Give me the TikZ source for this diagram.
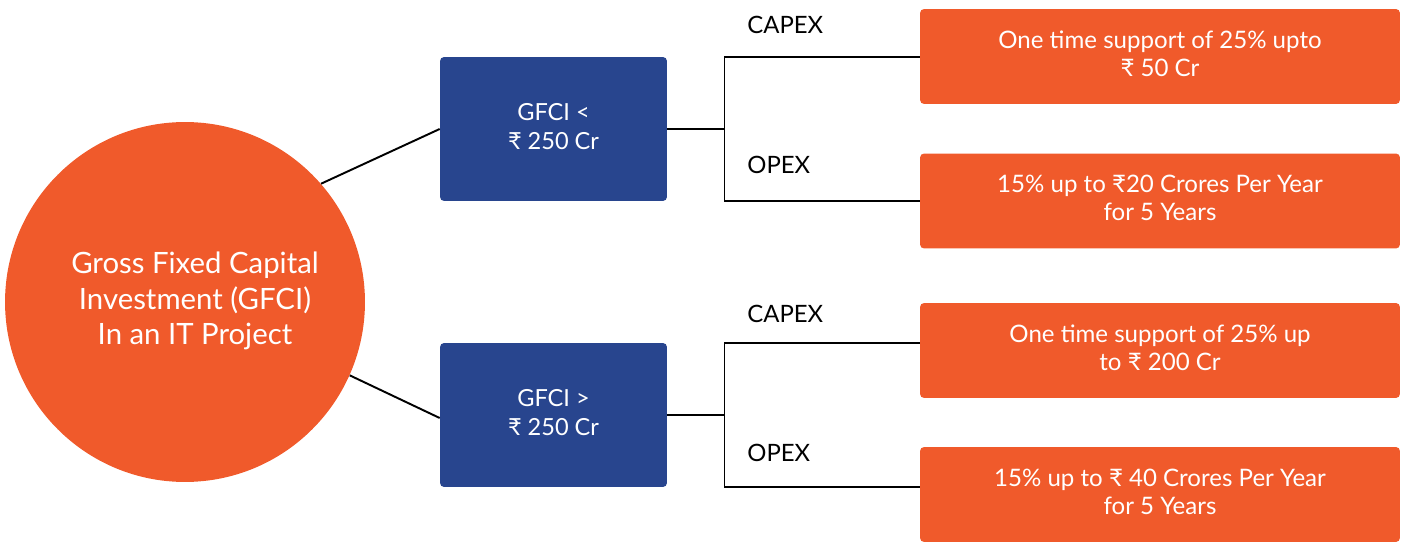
\documentclass[tikz,border=0pt]{standalone}
\usepackage{fontspec}
\setmainfont{Lato}
\usepackage{tikz}
\usetikzlibrary{positioning}
\definecolor{gfciorange}{HTML}{F05A2B}
\definecolor{gfciblue}{HTML}{28458E}

\tikzset{
  circ/.style={circle, fill=gfciorange, minimum size=7.2cm, inner sep=0pt, text=white,
    font=\fontsize{16.7}{20}\selectfont},
  gfcibox/.style={rectangle, rounded corners=2.3pt, fill=gfciblue, minimum width=4.54cm,
    minimum height=2.88cm, text depth=0.1cm, text=white, align=center,
    font=\fontsize{13.4}{16}\selectfont},
  benefit/.style={rectangle, rounded corners=2.3pt, fill=gfciorange, minimum width=9.6cm,
    minimum height=1.9cm, text depth=0.12cm, text=white, align=center,
    font=\fontsize{13.7}{16}\selectfont},
  lbl/.style={anchor=west, inner sep=0pt, font=\fontsize{13.6}{15}\selectfont},
  wire/.style={draw=black, line width=1.1pt}
}

\begin{document}
\begin{tikzpicture}[x=0.02cm, y=-0.02cm]
    \useasboundingbox (0,0) rectangle (1405,543);

    % main circle
    \node[circ] (gfci) at (185,302) {\hspace*{0.4cm}%
      \begin{tabular}{@{}c@{}}Gross Fixed Capital\\Investment (GFCI)\\In an IT Project\end{tabular}};

    % GFCI ranges
    \node[gfcibox] (lo) at (553.5,129) {GFCI <\\₹ 250 Cr};
    \node[gfcibox] (hi) at (553.5,415) {GFCI >\\₹ 250 Cr};

    % benefits
    \node[benefit] (capa) at (1160,56.5) {One time support of 25\% upto\\₹ 50 Cr};
    \node[benefit] (opa) at (1160,201) {15\% up to ₹20 Crores Per Year\\for 5 Years};
    \node[benefit] (capb) at (1160,350.5) {One time support of 25\% up\\to ₹ 200 Cr};
    \node[benefit] (opb) at (1160,494.5) {15\% up to ₹ 40 Crores Per Year\\for 5 Years};

    % labels
    \node[lbl] (capexa) at (747,24.5) {CAPEX};
    \node[lbl] (opexa) at (747,164.5) {OPEX};
    \node[lbl] (capexb) at (747,313.5) {CAPEX};
    \node[lbl] (opexb) at (747,453) {OPEX};

    % bracket corners
    \coordinate (ta) at (724.5,57);
    \coordinate (ba) at (724.5,201);
    \coordinate (tb) at (724.5,343);
    \coordinate (bb) at (724.5,487);

    % connectors
    \draw[wire] (gfci.41.8) -- (lo.west);
    \draw[wire] (gfci.-24.3) -- ([yshift=-0.06cm]hi.west);

    \draw[wire] (lo.east) -- (lo.east -| ta);
    \draw[wire] (ta -| capa.west) -- (ta) -- (ba) -- (ba -| opa.west);
    \draw[wire] (hi.east) -- (hi.east -| tb);
    \draw[wire] (tb -| capb.west) -- (tb) -- (bb) -- (bb -| opb.west);
\end{tikzpicture}
\end{document}
